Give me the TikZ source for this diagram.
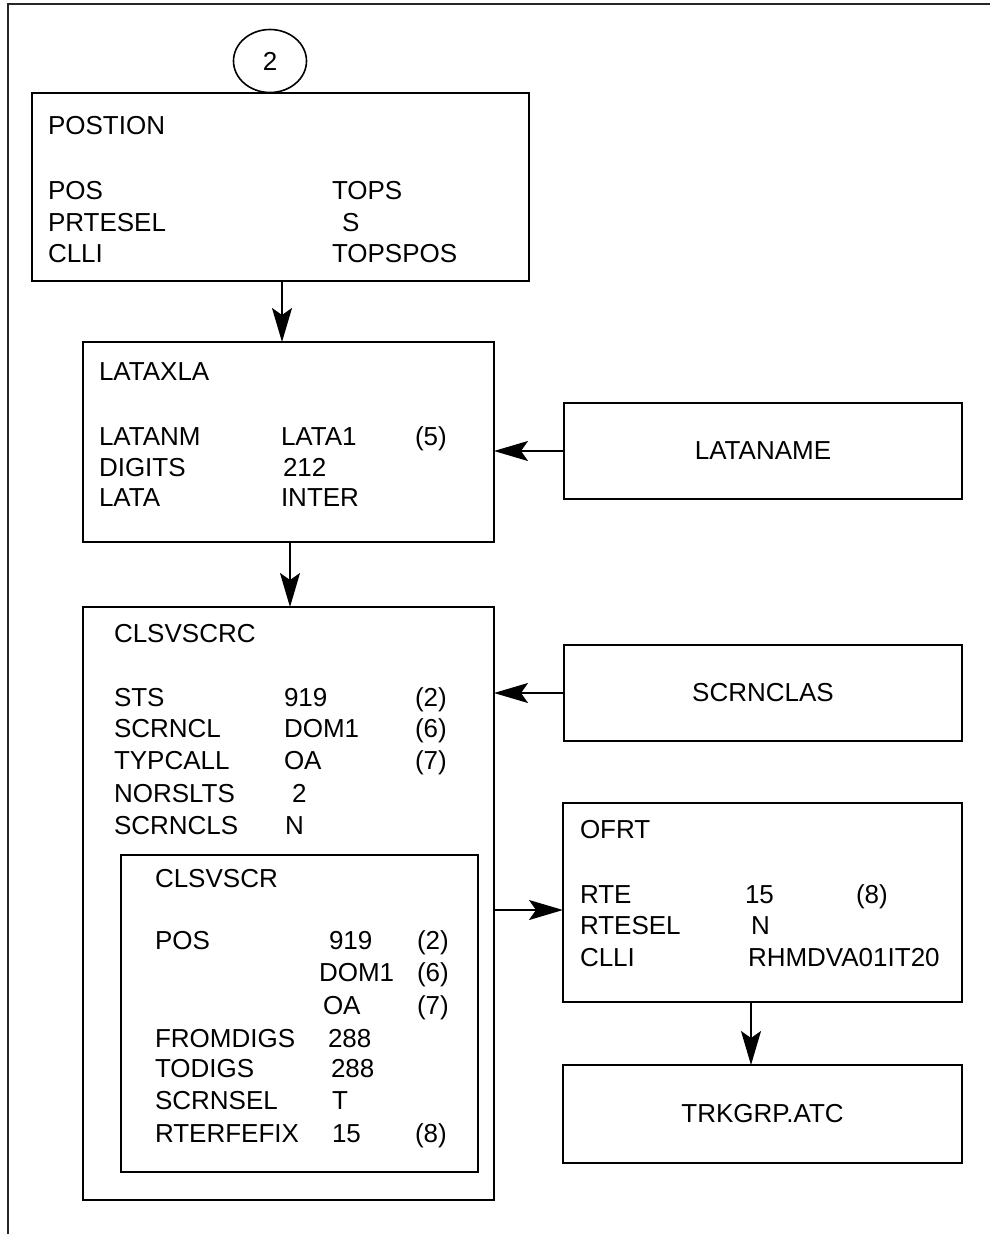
\documentclass[tikz,border=0pt]{standalone}
\usepackage{fontspec}
\setmainfont{Liberation Sans}
\usetikzlibrary{arrows.meta,shapes.geometric}
\tikzset{
  box/.style={draw, line width=1.7pt, inner sep=0pt, outer sep=0pt},
  txt/.style={anchor=base west, inner sep=0pt, outer sep=0pt},
  arr/.style={line width=1.6pt, -{Stealth[length=34pt,width=20pt,inset=7pt]}},
  frame/.style={line width=1.6pt, draw=black!85}
}
\begin{document}
\begin{tikzpicture}[x=1pt,y=-1pt,font=\fontsize{26}{26}\selectfont]
\useasboundingbox (0,0) rectangle (990,1234);
% frame
\coordinate (fA) at (992,4);
\coordinate (fB) at (8,4);
\coordinate (fC) at (8,1236);
\draw[frame] (fA) -- (fB) -- (fC);

% boxes
\node[box, minimum width=497pt, minimum height=188pt] (postion) at (280.5,187) {};
\node[draw, ellipse, line width=1.6pt, minimum width=73pt, minimum height=63pt, inner sep=0pt] (circ) at (270,61) {2};
\node[box, minimum width=411pt, minimum height=200pt] (lataxla) at (288.5,442) {};
\node[box, minimum width=398pt, minimum height=96pt] (lataname) at (763,451) {LATANAME};
\node[box, minimum width=411pt, minimum height=593pt] (clsvscrc) at (288.5,903.5) {};
\node[box, minimum width=357pt, minimum height=317pt] (clsvscr) at (299.5,1013.5) {};
\node[box, minimum width=398pt, minimum height=96pt] (scrnclas) at (763,693) {SCRNCLAS};
\node[box, minimum width=399pt, minimum height=199pt] (ofrt) at (762.5,902.5) {};
\node[box, minimum width=399pt, minimum height=98pt] (trkgrp) at (762.5,1114) {TRKGRP.ATC};

% POSTION texts
\node[txt] (p0) at (48,134.5) {POSTION};
\node[txt] (p1) at (48,199.5) {POS};
\node[txt] (p1b) at (332,199.5) {TOPS};
\node[txt] (p2) at (48,231.5) {PRTESEL};
\node[txt] (p2b) at (342,231.5) {S};
\node[txt] (p3) at (48,262.5) {CLLI};
\node[txt] (p3b) at (332,262.5) {TOPSPOS};

% LATAXLA texts
\node[txt] (l0) at (99,380.5) {LATAXLA};
\node[txt] (l1) at (99,445.5) {LATANM};
\node[txt] (l1b) at (281,445.5) {LATA1};
\node[txt] (l1c) at (415,445.5) {(5)};
\node[txt] (l2) at (99,476.5) {DIGITS};
\node[txt] (l2b) at (283,476.5) {212};
\node[txt] (l3) at (99,506.5) {LATA};
\node[txt] (l3b) at (281,506.5) {INTER};

% CLSVSCRC texts
\node[txt] (c0) at (114,642.5) {CLSVSCRC};
\node[txt] (c1) at (114,706.5) {STS};
\node[txt] (c1b) at (284,706.5) {919};
\node[txt] (c1c) at (415,706.5) {(2)};
\node[txt] (c2) at (114,737.5) {SCRNCL};
\node[txt] (c2b) at (284,737.5) {DOM1};
\node[txt] (c2c) at (415,737.5) {(6)};
\node[txt] (c3) at (114,769.5) {TYPCALL};
\node[txt] (c3b) at (284,769.5) {OA};
\node[txt] (c3c) at (415,769.5) {(7)};
\node[txt] (c4) at (114,802.5) {NORSLTS};
\node[txt] (c4b) at (292,802.5) {2};
\node[txt] (c5) at (114,834.5) {SCRNCLS};
\node[txt] (c5b) at (285,834.5) {N};

% CLSVSCR texts
\node[txt] (s0) at (155,887.5) {CLSVSCR};
\node[txt] (s1) at (155,949.5) {POS};
\node[txt] (s1b) at (329,949.5) {919};
\node[txt] (s1c) at (417,949.5) {(2)};
\node[txt] (s2b) at (319,981.5) {DOM1};
\node[txt] (s2c) at (417,981.5) {(6)};
\node[txt] (s3b) at (323,1014.5) {OA};
\node[txt] (s3c) at (417,1014.5) {(7)};
\node[txt] (s4) at (155,1047.5) {FROMDIGS};
\node[txt] (s4b) at (328,1047.5) {288};
\node[txt] (s5) at (155,1077.5) {TODIGS};
\node[txt] (s5b) at (331,1077.5) {288};
\node[txt] (s6) at (155,1109.5) {SCRNSEL};
\node[txt] (s6b) at (332,1109.5) {T};
\node[txt] (s7) at (155,1142.5) {RTERFEFIX};
\node[txt] (s7b) at (332,1142.5) {15};
\node[txt] (s7c) at (415,1142.5) {(8)};

% OFRT texts
\node[txt] (o0) at (580,838.5) {OFRT};
\node[txt] (o1) at (580,903.5) {RTE};
\node[txt] (o1b) at (745,903.5) {15};
\node[txt] (o1c) at (856,903.5) {(8)};
\node[txt] (o2) at (580,934.5) {RTESEL};
\node[txt] (o2b) at (751,934.5) {N};
\node[txt] (o3) at (580,966.5) {CLLI};
\node[txt] (o3b) at (748,966.5) {RHMDVA01IT20};

% connectors
\coordinate (x1) at (282,0);
\coordinate (x2) at (290,0);
\coordinate (y3) at (0,910);
\coordinate (x4) at (751,0);
\draw[arr] (postion.south -| x1) -- (lataxla.north -| x1);
\draw[arr] (lataxla.south -| x2) -- (clsvscrc.north -| x2);
\draw[arr] (lataname.west) -- (lataname.west -| lataxla.east);
\draw[arr] (scrnclas.west) -- (scrnclas.west -| clsvscrc.east);
\draw[arr] (clsvscrc.east |- y3) -- (ofrt.west |- y3);
\draw[arr] (ofrt.south -| x4) -- (trkgrp.north -| x4);
\end{tikzpicture}
\end{document}
